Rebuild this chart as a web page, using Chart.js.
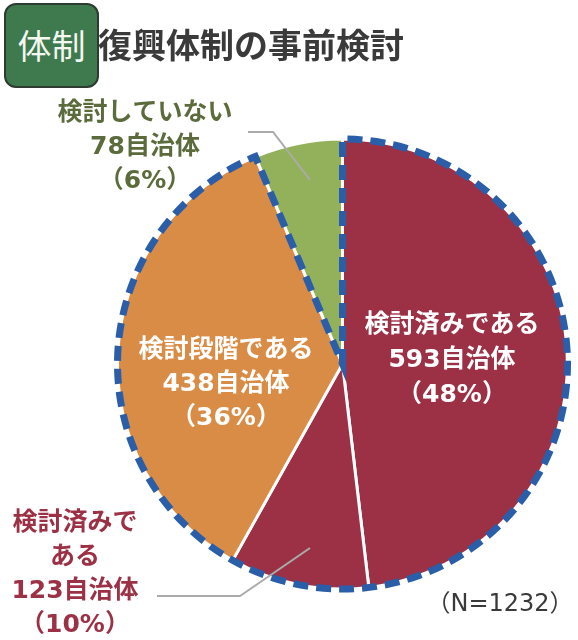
<!DOCTYPE html>
<html lang="ja">
<head>
<meta charset="utf-8">
<script src="https://cdn.jsdelivr.net/npm/chart.js@4"></script>
<style>
  body { margin: 0; background: #fff; font-family: "Noto Sans CJK JP", sans-serif; }
  #wrap { position: relative; width: 578px; height: 640px; }
  #badge {
    position: absolute; left: 4px; top: 3px; width: 91px; height: 81px;
    background: #3f7a4f; border: 2px solid #2d3b30; border-radius: 12px;
    color: #f4f8f0; font-size: 34px; line-height: 79px; text-align: center; font-weight: 400;
  }
  #title {
    position: absolute; left: 98px; top: 20px; font-size: 34px; font-weight: 700;
    color: #3a3a3a; line-height: 48px;
  }
  canvas { position: absolute; left: 0; top: 0; }
</style>
</head>
<body>
<div id="wrap">
  <canvas id="pie" width="578" height="640"></canvas>
  <div id="badge">体制</div>
  <div id="title">復興体制の事前検討</div>
</div>
<script>
// データ（時計回り、12時から）
const categories = ["検討済みである", "検討済みである", "検討段階である", "検討していない"];
const counts = [593, 123, 438, 78];
const percents = [48, 10, 36, 6];
const total = 1232;
const sliceColors = ["#9c3146", "#9c3146", "#d98c46", "#93b15b"];

// ラベル（文字の行）
const labelLines = [
  ["検討済みである", counts[0] + "自治体", "（" + percents[0] + "%）"],
  ["検討済みで", "ある", counts[1] + "自治体", "（" + percents[1] + "%）"],
  ["検討段階である", counts[2] + "自治体", "（" + percents[2] + "%）"],
  ["検討していない", counts[3] + "自治体", "（" + percents[3] + "%）"],
];

let pieEl = document.getElementById("pie");

// 検討済み＋検討段階 を囲む青い点線
const dashOutline = {
  id: "dashOutline",
  afterDatasetsDraw(c) {
    const arcs = c.getDatasetMeta(0).data;
    const a0 = arcs[0], a2 = arcs[2];
    const ctx = c.ctx;
    ctx.save();
    ctx.beginPath();
    ctx.moveTo(a0.x, a0.y);
    ctx.lineTo(a0.x + Math.cos(a0.startAngle) * a0.outerRadius, a0.y + Math.sin(a0.startAngle) * a0.outerRadius);
    ctx.arc(a0.x, a0.y, a0.outerRadius, a0.startAngle, a2.endAngle);
    ctx.closePath();
    ctx.strokeStyle = "#2b5ea9";
    ctx.lineWidth = 7;
    ctx.setLineDash([15, 8]);
    ctx.stroke();
    ctx.restore();
  },
};

// ラベルと引き出し線
const sliceLabels = {
  id: "sliceLabels",
  afterDraw(c) {
    const ctx = c.ctx;
    ctx.save();
    // 引き出し線
    ctx.strokeStyle = "#ababab";
    ctx.lineWidth = 2;
    ctx.beginPath();
    ctx.moveTo(248, 132); ctx.lineTo(273, 132); ctx.lineTo(310, 180);
    ctx.moveTo(157, 596); ctx.lineTo(240, 596); ctx.lineTo(310, 548);
    ctx.stroke();

    ctx.textAlign = "center";
    ctx.textBaseline = "middle";
    ctx.font = "600 25px 'DejaVu Sans', 'Noto Sans CJK JP'";
    const spots = [
      { x: 452, y: 325, color: "#ffffff", gap: 35 },
      { x: 75, y: 523, color: "#9c3146", gap: 34 },
      { x: 226, y: 350, color: "#ffffff", gap: 34 },
      { x: 145, y: 113, color: "#5b6b3b", gap: 34 },
    ];
    labelLines.forEach((lines, i) => {
      ctx.fillStyle = spots[i].color;
      lines.forEach((t, j) => ctx.fillText(t, spots[i].x, spots[i].y + j * spots[i].gap));
    });

    ctx.fillStyle = "#3a3a3a";
    ctx.font = "400 24px 'DejaVu Sans', 'Noto Sans CJK JP'";
    ctx.fillText("（N=" + total + "）", 500, 605);
    ctx.restore();
  },
};

let pieChart = new Chart(pieEl, {
  type: "pie",
  data: {
    labels: categories,
    datasets: [
      {
        data: counts,
        backgroundColor: sliceColors,
        borderColor: "#ffffff",
        borderWidth: 3,
        radius: 225,
      },
    ],
  },
  options: {
    responsive: false,
    animation: false,
    layout: { padding: { left: 117, right: 10, top: 139, bottom: 51 } },
    plugins: {
      legend: { display: false },
      tooltip: { enabled: false },
    },
  },
  plugins: [dashOutline, sliceLabels],
});
</script>
</body>
</html>
